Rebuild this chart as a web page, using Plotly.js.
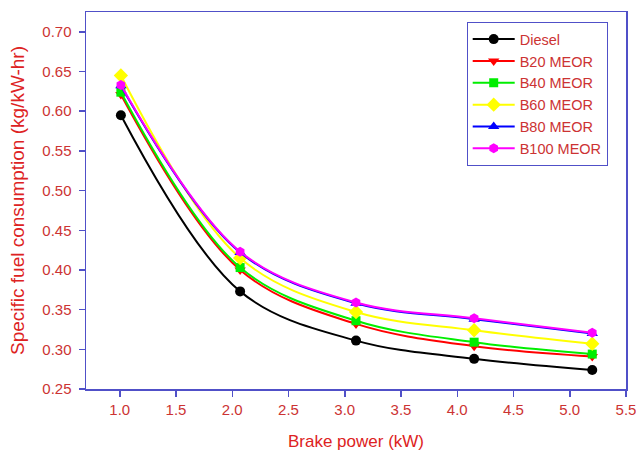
<!DOCTYPE html>
<html>
<head>
<meta charset="utf-8">
<script src="https://cdn.plot.ly/plotly-3.0.1.min.js"></script>
<style>html,body{margin:0;padding:0;background:#fff;}#chart{width:636px;height:452px;}</style>
</head>
<body>
<div id="chart"></div>
<script>
const brakePower = [1.01, 2.07, 3.1, 4.15, 5.2];
const seriesNames = ["Diesel", "B20 MEOR", "B40 MEOR", "B60 MEOR", "B80 MEOR", "B100 MEOR"];
const diesel = [0.595, 0.373, 0.311, 0.288, 0.274];
const b20 = [0.621, 0.400, 0.332, 0.304, 0.291];
const b40 = [0.624, 0.403, 0.336, 0.309, 0.294];
const b60 = [0.645, 0.415, 0.347, 0.324, 0.307];
const b80 = [0.632, 0.422, 0.358, 0.338, 0.320];
const b100 = [0.633, 0.423, 0.359, 0.339, 0.321];
const xTicks = [1.0, 1.5, 2.0, 2.5, 3.0, 3.5, 4.0, 4.5, 5.0, 5.5];
const yTicks = [0.25, 0.30, 0.35, 0.40, 0.45, 0.50, 0.55, 0.60, 0.65, 0.70];

const values = [diesel, b20, b40, b60, b80, b100];
const colors = ["#000000", "#ff0000", "#00ee00", "#ffff00", "#0000ff", "#ff00ff"];
const symbols = ["circle", "triangle-down", "square", "diamond", "triangle-up", "hexagon"];
const sizes = [10, 10, 9, 11, 10, 10];

const traces = values.map((v, i) => ({
  x: brakePower, y: v, name: seriesNames[i], type: "scatter", mode: "lines+markers",
  line: {color: colors[i], width: 2, shape: "spline", smoothing: 1},
  marker: {color: colors[i], symbol: symbols[i], size: sizes[i]}
}));

const axisColor = "#5050c8";
const tickColor = "#cc3333";
const titleColor = "#dd2222";
const layout = {
  width: 636, height: 452,
  margin: {l: 86, r: 10, t: 12, b: 63},
  paper_bgcolor: "#ffffff", plot_bgcolor: "#ffffff",
  font: {family: "Liberation Sans, Arial, sans-serif"},
  xaxis: {
    range: [0.7, 5.5], tickvals: xTicks, ticktext: xTicks.map(t => t.toFixed(1)),
    showgrid: false, zeroline: false, showline: true, linecolor: axisColor, linewidth: 1.5, mirror: true,
    ticks: "outside", ticklen: 6, tickcolor: axisColor, tickwidth: 1.5, ticklabeloverflow: "allow",
    tickfont: {size: 15, color: tickColor},
    title: {text: "Brake power (kW)", font: {size: 17, color: titleColor}, standoff: 18}
  },
  yaxis: {
    range: [0.25, 0.725], tickvals: yTicks, ticktext: yTicks.map(t => t.toFixed(2)),
    showgrid: false, zeroline: false, showline: true, linecolor: axisColor, linewidth: 1.5, mirror: true,
    ticks: "outside", ticklen: 6, tickcolor: axisColor, tickwidth: 1.5, ticklabelstandoff: 4,
    tickfont: {size: 15, color: tickColor},
    title: {text: "Specific fuel consumption (kg/kW-hr)", font: {size: 19, color: titleColor}, standoff: 12}
  },
  legend: {
    x: 0.705, y: 0.973, xanchor: "left", yanchor: "top",
    bgcolor: "#ffffff", bordercolor: axisColor, borderwidth: 1,
    font: {size: 14.5, color: tickColor}, tracegroupgap: 0, itemwidth: 42
  },
  showlegend: true
};
Plotly.newPlot("chart", traces, layout, {staticPlot: true, displayModeBar: false});
</script>
</body>
</html>
